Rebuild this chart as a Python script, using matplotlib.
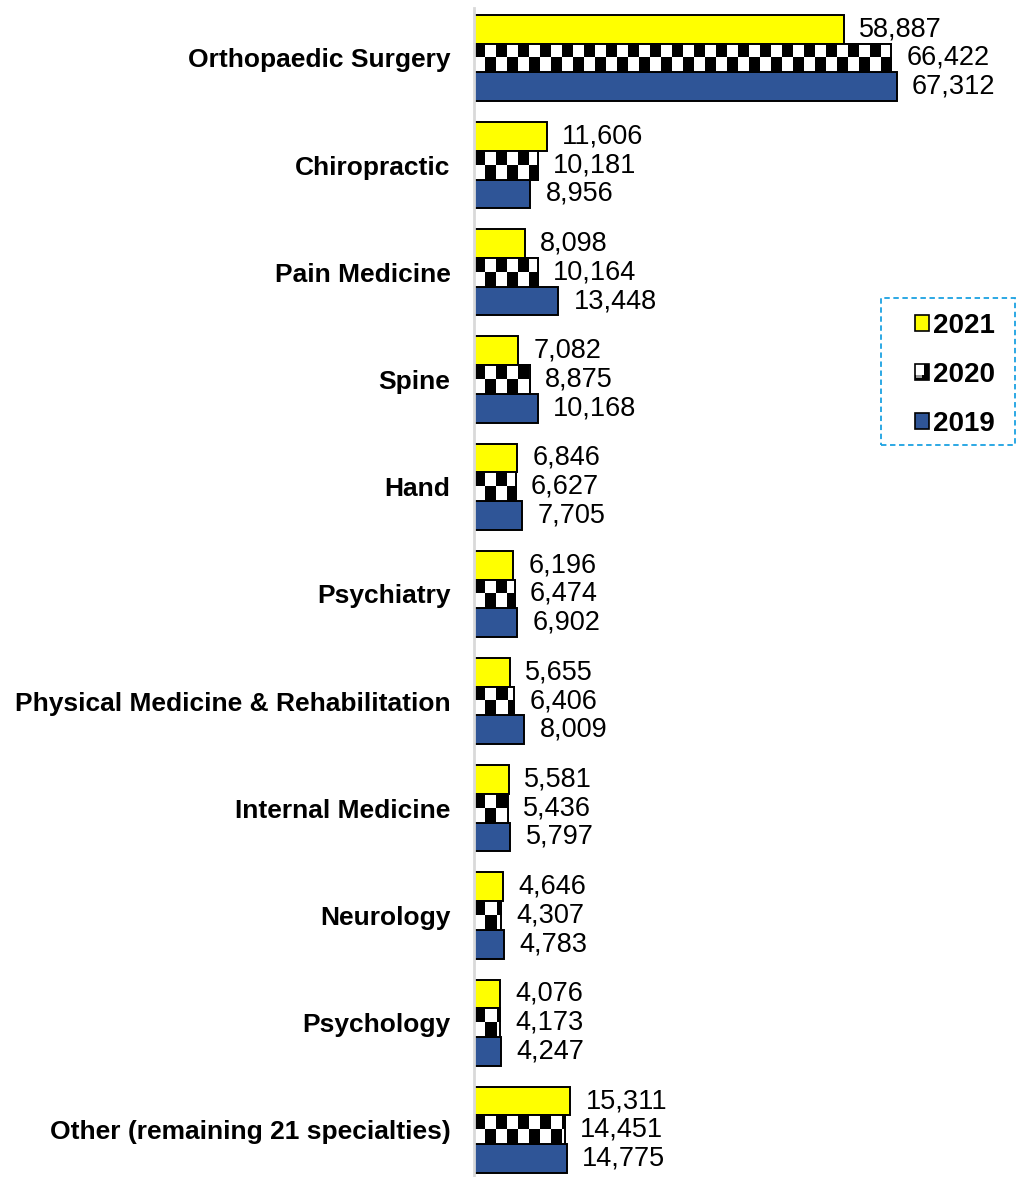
import numpy as np
import matplotlib
matplotlib.use("Agg")
import matplotlib.pyplot as plt
from matplotlib.patches import Rectangle, Patch
from matplotlib.legend_handler import HandlerPatch

plt.rcParams['font.family'] = ['Liberation Sans', 'DejaVu Sans']

categories = ["Orthopaedic Surgery", "Chiropractic", "Pain Medicine", "Spine", "Hand",
              "Psychiatry", "Physical Medicine & Rehabilitation", "Internal Medicine",
              "Neurology", "Psychology", "Other (remaining 21 specialties)"]
years = ["2021", "2020", "2019"]
v2021 = [58887, 11606, 8098, 7082, 6846, 6196, 5655, 5581, 4646, 4076, 15311]
v2020 = [66422, 10181, 10164, 8875, 6627, 6474, 6406, 5436, 4307, 4173, 14451]
v2019 = [67312, 8956, 13448, 10168, 7705, 6902, 8009, 5797, 4783, 4247, 14775]

YELLOW = "#FFFF00"
BLUE = "#2F5597"

fig = plt.figure(figsize=(10.16, 11.77), dpi=100)
ax = fig.add_axes([474 / 1016, 0.0, 1 - 474 / 1016, 1 - 8 / 1177])

y = np.arange(len(categories))
h = 0.268
XMAX = 86300
cell = 1750  # width of one checker square in data units

bars21 = ax.barh(y - h, v2021, height=h, color=YELLOW, edgecolor="black", linewidth=1.4)
bars20 = ax.barh(y, v2020, height=h, color="white", edgecolor="black", linewidth=1.4)
bars19 = ax.barh(y + h, v2019, height=h, color=BLUE, edgecolor="black", linewidth=1.4)

# checkerboard fill for the 2020 bars
for rect, val, yc in zip(bars20, v2020, y):
    ncols = int(np.ceil(val / cell))
    pattern = np.fromfunction(lambda r, c: ((r + c) % 2 == 0).astype(float), (2, ncols))
    im = ax.imshow(1 - pattern, cmap="gray", vmin=0, vmax=1, interpolation="nearest",
                   extent=[0, ncols * cell, yc + h / 2, yc - h / 2], aspect="auto", zorder=1.5)
    im.set_clip_path(rect)
    outline = Rectangle((0, yc - h / 2), val, h, facecolor="none", edgecolor="black",
                        linewidth=1.4, zorder=2)
    ax.add_patch(outline)

for bars, vals in ((bars21, v2021), (bars20, v2020), (bars19, v2019)):
    for rect, val in zip(bars, vals):
        ax.annotate(f"{val:,}", xy=(val, rect.get_y() + rect.get_height() / 2),
                    xytext=(11, 0), textcoords="offset points",
                    ha="left", va="center", fontsize=19.5, color="black")

ax.set_xlim(0, XMAX)
ax.set_ylim(10.44, -0.466)
ax.set_yticks(y)
ax.set_yticklabels(categories, fontsize=19, fontweight="bold")
ax.tick_params(axis="y", length=0, pad=17)
ax.set_xticks([])
for s in ("top", "right", "bottom"):
    ax.spines[s].set_visible(False)
ax.spines["left"].set_color("#D9D9D9")
ax.spines["left"].set_linewidth(2)
ax.set_facecolor("none")


class CheckerHandler(HandlerPatch):
    def create_artists(self, legend, orig_handle, xdescent, ydescent, width, height, fontsize, trans):
        x0, y0 = -xdescent, -ydescent
        base = Rectangle((x0, y0), width, height, facecolor="white", edgecolor="black",
                         linewidth=1.2, transform=trans)
        right = Rectangle((x0 + width * 0.62, y0), width * 0.38, height,
                          facecolor="black", edgecolor="none", transform=trans)
        bottom = Rectangle((x0, y0), width, height * 0.3,
                           facecolor="black", edgecolor="none", transform=trans)
        corner = Rectangle((x0 + width * 0.1, y0 + height * 0.1), width * 0.4, height * 0.2,
                           facecolor="#9a9a9a", edgecolor="none", transform=trans)
        return [base, right, bottom, corner]


h21 = Patch(facecolor=YELLOW, edgecolor="black", linewidth=1.2)
h20 = Patch(facecolor="white", edgecolor="black")
h19 = Patch(facecolor=BLUE, edgecolor="black", linewidth=1.2)

fig.patches.append(Rectangle((881 / 1016, 1 - 445 / 1177), (1015 - 881) / 1016, (445 - 298) / 1177,
                             transform=fig.transFigure, facecolor="white", edgecolor="#1BA1E2",
                             linewidth=1.3, linestyle=(0, (3, 2)), zorder=5))
leg = fig.legend([h21, h20, h19], years, loc="center",
                 bbox_to_anchor=(0.940, 1 - 375 / 1177),
                 frameon=False, prop={"size": 20, "weight": "bold"},
                 handlelength=0.5, handleheight=0.5, handletextpad=0.15, labelspacing=0.82,
                 handler_map={h20: CheckerHandler()})
leg.set_zorder(6)

fig.savefig("out.png", dpi=100)
